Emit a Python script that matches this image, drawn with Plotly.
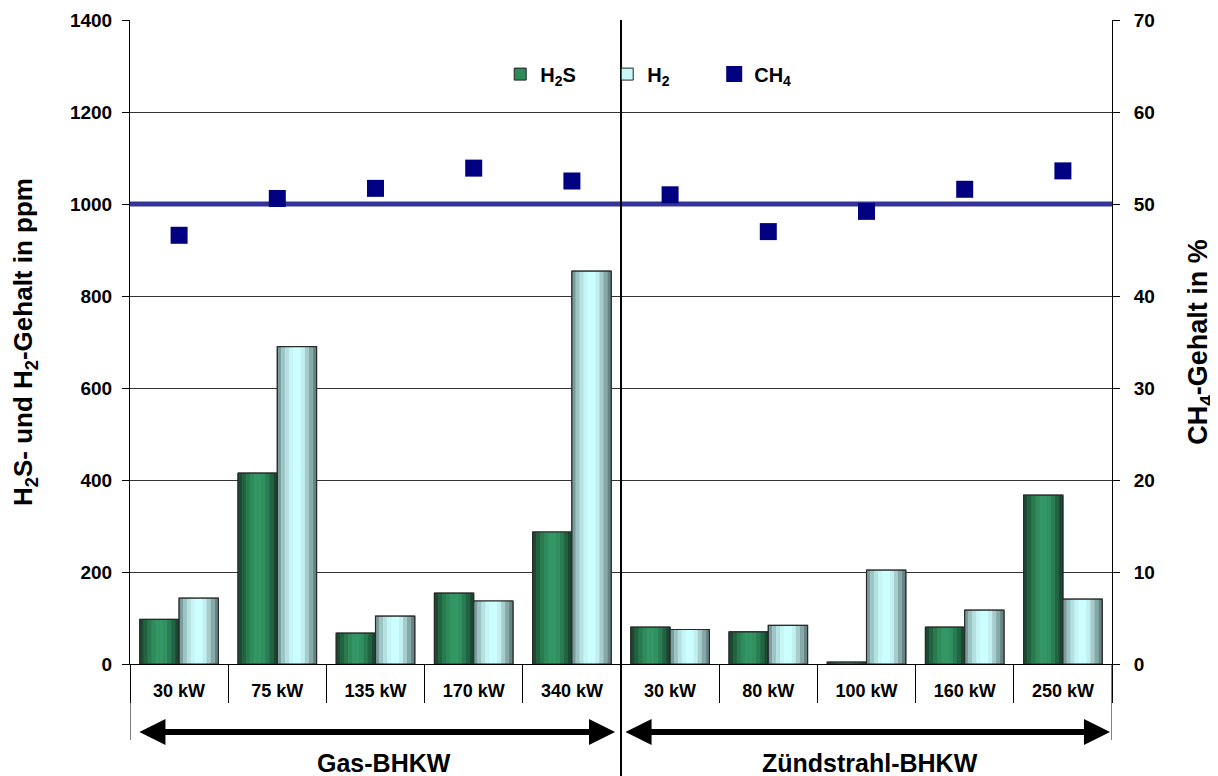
import plotly.graph_objects as go

# ---------------- data ----------------
groups = ["Gas-BHKW", "Zündstrahl-BHKW"]
labels = ["30 kW", "75 kW", "135 kW", "170 kW", "340 kW",
          "30 kW", "80 kW", "100 kW", "160 kW", "250 kW"]
h2s = [97, 415, 67, 154, 287, 80, 70, 4, 80, 367]          # ppm
h2 = [143, 690, 104, 137, 854, 75, 84, 204, 117, 141]      # ppm
ch4 = [46.6, 50.6, 51.7, 53.9, 52.5, 51.0, 47.0, 49.2, 51.6, 53.6]  # %
ch4_reference = 50
y_ticks = [0, 200, 400, 600, 800, 1000, 1200, 1400]
y2_ticks = [0, 10, 20, 30, 40, 50, 60, 70]

# ---------------- style ----------------
FONT = "Liberation Sans, Arial, sans-serif"
green_stripes = ["#1b4a33", "#22623f", "#2a7a50", "#2f8b5c", "#339664",
                 "#339664", "#309060", "#2a7c53", "#226343", "#1a4830"]
cyan_stripes = ["#7a9c9c", "#9cc4c4", "#b5e0e0", "#c6f5f5", "#ccffff",
                "#ccffff", "#c2f0f0", "#a6cccc", "#86a8a8", "#678585"]
BAR_W = 0.4

x = list(range(len(labels)))
n = len(labels)
split = n // 2 - 0.5
left_edge, right_edge = -0.5, n - 0.5

fig = go.Figure()


def add_series(name, values, offset, base_color, stripes):
    # base bar (legend entry)
    fig.add_trace(go.Bar(x=x, y=values, name=name, width=BAR_W, offset=offset,
                         marker=dict(color=base_color, line=dict(color="#222", width=1)),
                         hoverinfo="y+name"))
    k_n = len(stripes)
    for k, c in enumerate(stripes):
        fig.add_trace(go.Bar(x=x, y=values, width=BAR_W / k_n,
                             offset=offset + k * BAR_W / k_n,
                             marker=dict(color=c, line=dict(width=0)),
                             showlegend=False, hoverinfo="skip"))
    fig.add_trace(go.Bar(x=x, y=values, width=BAR_W, offset=offset,
                         marker=dict(color="rgba(0,0,0,0)", line=dict(color="#2a2a2a", width=1.2)),
                         showlegend=False, hoverinfo="skip"))


add_series("H<sub>2</sub>S", h2s, -BAR_W, "#2e8b57", green_stripes)
add_series("H<sub>2</sub>", h2, 0, "#c8f8f8", cyan_stripes)

# CH4 reference line (50 %) drawn under the markers
fig.add_trace(go.Scatter(x=[left_edge, right_edge], y=[ch4_reference] * 2, yaxis="y2",
                         mode="lines", line=dict(color="#333399", width=5),
                         showlegend=False, hoverinfo="skip"))

fig.add_trace(go.Scatter(x=x, y=ch4, yaxis="y2", mode="markers", name="CH<sub>4</sub>",
                         marker=dict(symbol="square", size=17, color="#000080",
                                     line=dict(width=0))))

shapes = [
    # divider between the two groups
    dict(type="line", xref="x", x0=split, x1=split, yref="paper", y0=-0.25, y1=1,
         line=dict(color="black", width=2), layer="above"),
    # outer boundary lines below the axis
    dict(type="line", xref="x", x0=left_edge, x1=left_edge, yref="paper", y0=-0.118, y1=0,
         line=dict(color="black", width=1)),
    dict(type="line", xref="x", x0=right_edge, x1=right_edge, yref="paper", y0=-0.118, y1=0,
         line=dict(color="black", width=1)),
]

annotations = []
arrow_y = -0.1056
insets = [(0.08, 0.06), (0.03, 0.02)]
label_shift = [8, 3]
for (a, b), g, (i0, i1), sh in zip([(left_edge, split), (split, right_edge)], groups, insets, label_shift):
    annotations.append(dict(xref="x", yref="paper", x=b - i1, y=arrow_y,
                            axref="x", ayref="pixel", ax=a + i0, ay=0,
                            text="", showarrow=True, arrowhead=2, startarrowhead=2,
                            arrowside="end+start", arrowsize=0.87, startarrowsize=0.87,
                            arrowwidth=6, arrowcolor="black"))
    annotations.append(dict(xref="x", yref="paper", x=(a + b) / 2, y=-0.179,
                            xshift=sh, text=g, showarrow=False,
                            font=dict(family=FONT, size=25, color="black", weight="bold")))

fig.update_layout(
    width=1218, height=776,
    margin=dict(l=122, r=114, t=12, b=120, autoexpand=False),
    paper_bgcolor="white", plot_bgcolor="white",
    font=dict(family=FONT, color="black", weight="bold"),
    barmode="overlay",
    showlegend=True,
    legend=dict(orientation="h", x=0.377, y=0.916, xanchor="left", yanchor="middle",
                font=dict(family=FONT, size=20, color="black", weight="bold"),
                entrywidth=62, entrywidthmode="pixels", bgcolor="rgba(0,0,0,0)",
                traceorder="normal"),
    xaxis=dict(range=[left_edge, right_edge], tickmode="array", tickvals=x, ticktext=labels,
               ticks="outside", ticklen=10, tickcolor="rgba(0,0,0,0)", automargin=False,
               tickfont=dict(family=FONT, size=18, color="black", weight="bold"),
               showline=True, linecolor="black", linewidth=1, showgrid=False, zeroline=False,
               minor=dict(tickmode="linear", tick0=0.5, dtick=1, ticks="outside",
                          ticklen=38, tickcolor="black", tickwidth=1, showgrid=False)),
    yaxis=dict(range=[0, 1400], tickmode="array", tickvals=y_ticks, automargin=False,
               ticks="outside", ticklen=7, tickcolor="black", ticklabelstandoff=6,
               tickfont=dict(family=FONT, size=19, color="black", weight="bold"),
               showline=True, linecolor="black", linewidth=1,
               showgrid=True, gridcolor="#333", gridwidth=1, zeroline=False,
               title=dict(text="H<sub>2</sub>S- und H<sub>2</sub>-Gehalt in ppm",
                          font=dict(family=FONT, size=26, color="black", weight="bold"),
                          standoff=29)),
    yaxis2=dict(range=[0, 70], tickmode="array", tickvals=y2_ticks, overlaying="y", side="right",
                ticks="outside", ticklen=7, tickcolor="black", ticklabelstandoff=10,
                automargin=False,
                tickfont=dict(family=FONT, size=19, color="black", weight="bold"),
                showline=True, linecolor="black", linewidth=1, showgrid=False, zeroline=False,
                title=dict(text="CH<sub>4</sub>-Gehalt in %",
                           font=dict(family=FONT, size=27, color="black", weight="bold"),
                           standoff=34)),
    shapes=shapes,
    annotations=annotations,
)

fig.write_html("out.html")
